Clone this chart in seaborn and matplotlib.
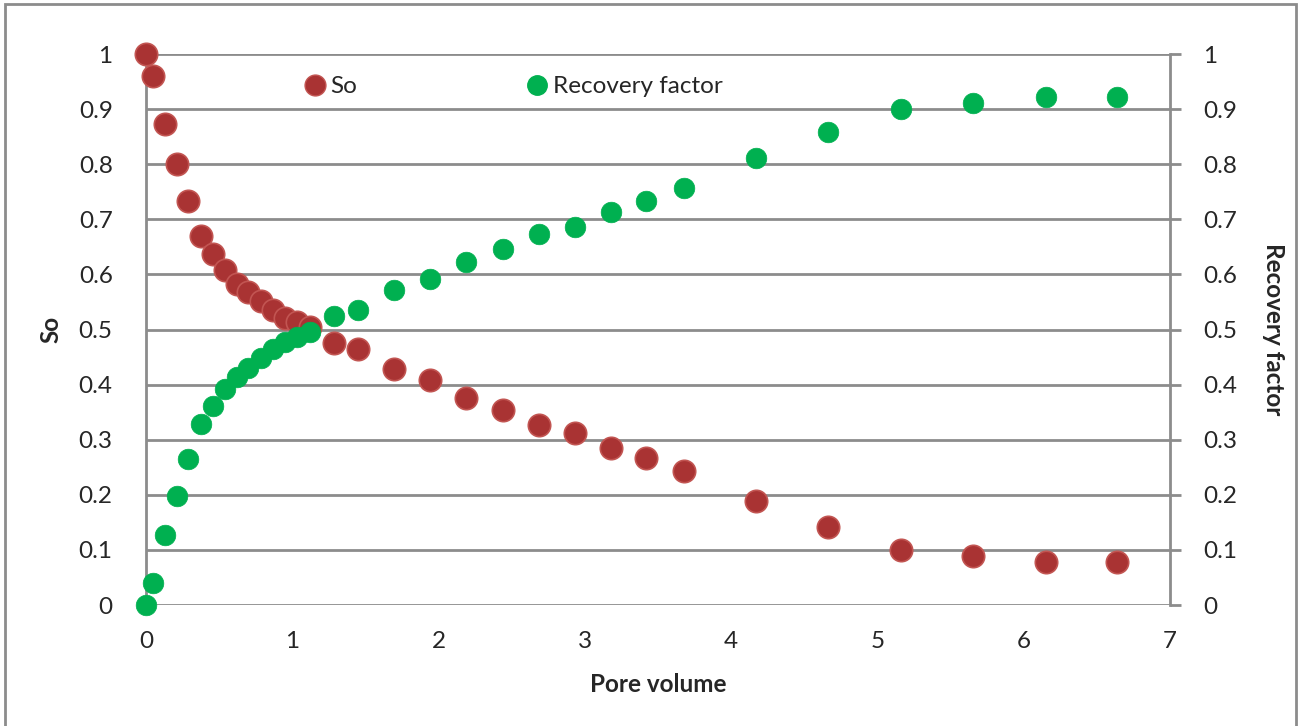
import matplotlib
matplotlib.use("Agg")
import matplotlib.pyplot as plt
from matplotlib.patches import Rectangle
from matplotlib.lines import Line2D
import seaborn as sns
import pandas as pd

# Injected pore volumes
pore_volume = [0.0, 0.048, 0.13, 0.21, 0.29, 0.376, 0.46, 0.54, 0.62, 0.70,
               0.786, 0.87, 0.95, 1.03, 1.12, 1.285, 1.45, 1.695, 1.94, 2.19,
               2.44, 2.686, 2.93, 3.18, 3.42, 3.68, 4.17, 4.66, 5.16, 5.65,
               6.15, 6.64]
# Oil saturation
so = [1.0, 0.96, 0.873, 0.80, 0.733, 0.67, 0.637, 0.608, 0.583, 0.568,
      0.552, 0.535, 0.521, 0.514, 0.505, 0.475, 0.465, 0.428, 0.408, 0.376,
      0.354, 0.327, 0.312, 0.285, 0.267, 0.243, 0.189, 0.142, 0.10, 0.089,
      0.078, 0.078]
# Recovery factor
recovery = [0.0, 0.04, 0.127, 0.198, 0.265, 0.328, 0.361, 0.392, 0.414, 0.43,
            0.448, 0.465, 0.477, 0.486, 0.495, 0.524, 0.535, 0.572, 0.592, 0.623,
            0.646, 0.673, 0.686, 0.713, 0.733, 0.757, 0.811, 0.858, 0.90, 0.911,
            0.922, 0.922]

x_ticks = [0, 1, 2, 3, 4, 5, 6, 7]
y_ticks = [0, 0.1, 0.2, 0.3, 0.4, 0.5, 0.6, 0.7, 0.8, 0.9, 1]
y_ticklabels = ["0", "0.1", "0.2", "0.3", "0.4", "0.5", "0.6", "0.7", "0.8", "0.9", "1"]

df = pd.DataFrame({"pv": pore_volume, "so": so, "rf": recovery})

sns.set_style("white")
plt.rcParams["font.family"] = ["Lato", "DejaVu Sans"]

RED = "#A93333"
RED_EDGE = "#C25552"
GREEN = "#00B050"
GRID = "#8C8C8C"
FS = 17.5

fig = plt.figure(figsize=(13.04, 7.26), dpi=100)
ax = fig.add_axes([146 / 1304, 1 - 605 / 726, (1170 - 146) / 1304, (605 - 54) / 726])
ax2 = ax.twinx()

sns.scatterplot(data=df, x="pv", y="so", ax=ax, color=RED, s=260,
                edgecolor=RED_EDGE, linewidth=1.2, zorder=3, legend=False,
                clip_on=False)
sns.scatterplot(data=df, x="pv", y="rf", ax=ax2, color=GREEN, s=220,
                edgecolor=GREEN, linewidth=0.5, zorder=4, legend=False,
                clip_on=False)

for a in (ax, ax2):
    a.set_xlim(0, 7)
    a.set_ylim(0, 1)
    a.set_yticks(y_ticks)
    a.set_yticklabels(y_ticklabels)
    for s in a.spines.values():
        s.set_visible(False)
    a.patch.set_visible(False)

ax.set_xticks(x_ticks)
ax.set_xticklabels([str(t) for t in x_ticks])
ax.grid(axis="y", color=GRID, linewidth=2)
ax.set_axisbelow(True)
ax.spines["left"].set_visible(True)
ax.spines["left"].set_color(GRID)
ax.spines["left"].set_linewidth(2)
ax2.spines["right"].set_visible(True)
ax2.spines["right"].set_color(GRID)
ax2.spines["right"].set_linewidth(2)

ax.tick_params(axis="y", length=0, pad=24, labelsize=FS)
ax.tick_params(axis="x", length=0, pad=19, labelsize=FS)
ax2.tick_params(axis="y", direction="out", length=8, width=2, color=GRID,
                pad=16, labelsize=FS)

ax.set_xlabel("Pore volume", fontsize=FS, fontweight="bold", labelpad=15)
ax.set_ylabel("So", fontsize=FS, fontweight="bold")
ax.yaxis.set_label_coords(-0.082, 0.5)
ax2.set_ylabel("Recovery factor", fontsize=FS, fontweight="bold",
               rotation=270, labelpad=34)

handles = [
    Line2D([], [], linestyle="none", marker="o", markersize=15,
           markerfacecolor=RED, markeredgecolor=RED_EDGE, label="So"),
    Line2D([], [], linestyle="none", marker="o", markersize=14,
           markerfacecolor=GREEN, markeredgecolor=GREEN, label="Recovery factor"),
]
ax2.legend(handles=handles, loc="upper left", bbox_to_anchor=(0.129, 0.999),
           ncol=2, frameon=False, fontsize=FS, handletextpad=0.05,
           columnspacing=6.8, handlelength=1.2)

fig.patches.append(Rectangle((5 / 1304, -0.01), (1296 - 5) / 1304, 1 - 4 / 726 + 0.01,
                             transform=fig.transFigure, fill=False,
                             edgecolor=GRID, linewidth=2))

fig.savefig("out.png", dpi=100)
